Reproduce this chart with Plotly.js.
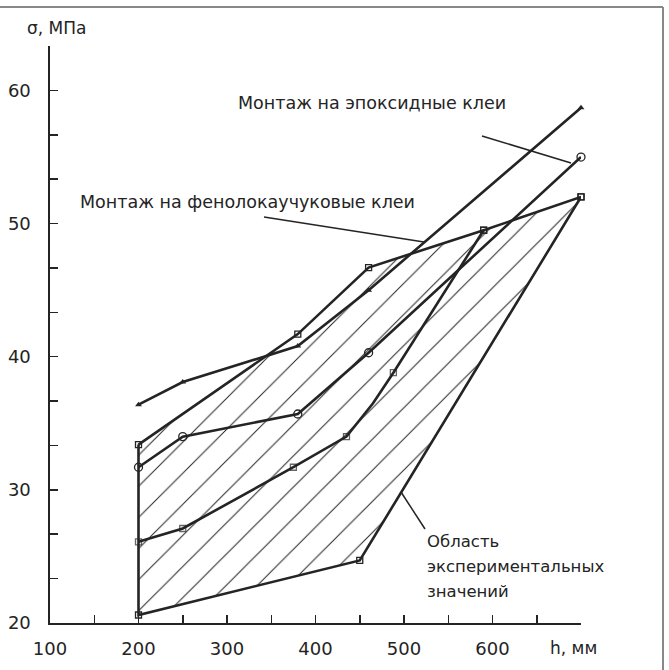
<!DOCTYPE html>
<html>
<head>
<meta charset="utf-8">
<script src="https://cdn.plot.ly/plotly-3.0.1.min.js"></script>
<style>
html,body{margin:0;padding:0;background:#fff;}
#chart{width:669px;height:670px;}
</style>
</head>
<body>
<div id="chart"></div>
<script>
// ---- data ----
const hEpoxy = [200, 250, 380, 460, 700];
const sEpoxy = [36.4, 38.1, 40.8, 45.0, 58.7];

const hCircle = [200, 250, 380, 460, 700];
const sCircle = [31.7, 34.0, 35.7, 40.3, 55.0];

const hPhenol = [200, 380, 460, 590, 700];
const sPhenol = [33.4, 41.7, 46.7, 49.5, 52.0];

const hMiddle = [200, 250, 375, 435, 465, 488, 590];
const sMiddle = [26.1, 27.1, 31.7, 34.0, 36.5, 38.8, 49.5];
const middleMarked = [1, 1, 1, 1, 0, 1, 1];

const hLower = [200, 450, 700];
const sLower = [20.6, 24.7, 52.0];

const xTickVals = [100, 200, 300, 400, 500, 600];
const xTickText = ['100', '200', '300', '400', '500', '600'];
const yTickVals = [20, 30, 40, 50, 60];
const yTickText = ['20', '30', '40', '50', '60'];

const labelEpoxy = 'Монтаж на эпоксидные клеи';
const labelPhenol = 'Монтаж на фенолокаучуковые клеи';
const labelRegion = ['Область', 'экспериментальных', 'значений'];
const xTitle = 'h, мм';
const yTitle = 'σ, МПа';

// ---- styling ----
const INK = '#242424';
const FONT = 'DejaVu Sans, Liberation Sans, sans-serif';
const LW = 2.6;

// region polygon built from the boundary series
const regionX = hPhenol.concat(hLower.slice().reverse().slice(1)).concat([hPhenol[0]]);
const regionY = sPhenol.concat(sLower.slice().reverse().slice(1)).concat([sPhenol[0]]);

const traces = [
  {
    x: regionX, y: regionY, mode: 'lines', fill: 'toself', cliponaxis: false,
    fillcolor: 'rgba(0,0,0,0)',
    fillpattern: {shape: '/', size: 22, solidity: 0.045, fgcolor: '#222', bgcolor: 'rgba(0,0,0,0)'},
    line: {color: INK, width: LW}, hoverinfo: 'skip'
  },
  {
    x: hEpoxy, y: sEpoxy, mode: 'lines+markers', cliponaxis: false,
    line: {color: INK, width: LW},
    marker: {symbol: 'triangle-up', size: 6, color: INK}
  },
  {
    x: hCircle, y: sCircle, mode: 'lines+markers', cliponaxis: false,
    line: {color: INK, width: LW},
    marker: {symbol: 'circle-open', size: 8, color: INK, line: {width: 1.3}}
  },
  {
    x: hMiddle, y: sMiddle, mode: 'lines+markers', cliponaxis: false,
    line: {color: INK, width: LW},
    marker: {symbol: 'square-open', size: middleMarked.map(m => m ? 6 : 0), color: INK, line: {width: 1.3}}
  },
  {
    x: hPhenol, y: sPhenol, mode: 'markers', cliponaxis: false,
    marker: {symbol: 'square-open', size: 6, color: INK, line: {width: 1.3}}
  },
  {
    x: hLower, y: sLower, mode: 'markers', cliponaxis: false,
    marker: {symbol: 'square-open', size: 6, color: INK, line: {width: 1.3}}
  }
];

// helpers: pixel position -> paper coordinates (plot area 50..581 x 46..623)
const L = 50, R = 581, T = 46, B = 623;
const px = v => (v - L) / (R - L);
const py = v => (B - v) / (B - T);

const txt = (text, x, y, xanchor, size) => ({
  text: text, xref: 'paper', yref: 'paper', x: px(x), y: py(y),
  xanchor: xanchor, yanchor: 'middle', showarrow: false,
  font: {family: FONT, size: size, color: INK}
});

const leader = (x0, y0, x1, y1) => ({
  type: 'line', xref: 'paper', yref: 'paper',
  x0: px(x0), y0: py(y0), x1: px(x1), y1: py(y1),
  line: {color: INK, width: 1.5}
});

const layout = {
  width: 669, height: 670,
  margin: {l: L, r: 669 - R, t: T, b: 670 - B},
  paper_bgcolor: '#fff', plot_bgcolor: '#fff',
  showlegend: false,
  font: {family: FONT, color: INK},
  xaxis: {
    range: [100, 700], showgrid: false, zeroline: false,
    showline: true, linecolor: INK, linewidth: 1.6,
    ticks: 'inside', ticklen: 8, tickwidth: 1.5, tickcolor: INK,
    tickmode: 'array', tickvals: xTickVals, ticktext: xTickText,
    tickfont: {family: FONT, size: 18, color: INK},
    ticklabelstandoff: 9,
    minor: {tickmode: 'linear', tick0: 100, dtick: 50, ticks: 'inside', ticklen: 8, tickwidth: 1.5, tickcolor: INK, showgrid: false}
  },
  yaxis: {
    range: [20, 63.34], showgrid: false, zeroline: false,
    showline: true, linecolor: INK, linewidth: 1.6,
    ticks: 'inside', ticklen: 8, tickwidth: 1.5, tickcolor: INK,
    tickmode: 'array', tickvals: yTickVals, ticktext: yTickText,
    tickfont: {family: FONT, size: 18, color: INK},
    ticklabelstandoff: 14,
    minor: {tickmode: 'linear', tick0: 20, dtick: 10 / 3, ticks: 'inside', ticklen: 8, tickwidth: 1.5, tickcolor: INK, showgrid: false}
  },
  annotations: [
    txt(yTitle, 25, 28, 'left', 17),
    txt(xTitle, 573, 648, 'center', 17),
    txt(labelEpoxy, 236, 103, 'left', 17.5),
    txt(labelPhenol, 78, 202, 'left', 17.5),
    txt(labelRegion[0], 425, 541, 'left', 16.5),
    txt(labelRegion[1], 425, 566, 'left', 16.5),
    txt(labelRegion[2], 425, 591, 'left', 16.5)
  ],
  shapes: [
    // page frame (top and right)
    {type: 'line', xref: 'paper', yref: 'paper', x0: px(0), y0: py(7), x1: px(663), y1: py(7), line: {color: '#888', width: 2}},
    {type: 'line', xref: 'paper', yref: 'paper', x0: px(663), y0: py(7), x1: px(663), y1: py(670), line: {color: '#888', width: 2}},
    // leader lines
    leader(482, 136, 571, 163),
    leader(264, 217, 424, 242),
    leader(425, 529, 401, 492)
  ]
};

Plotly.newPlot('chart', traces, layout, {staticPlot: true, displayModeBar: false});
</script>
</body>
</html>
